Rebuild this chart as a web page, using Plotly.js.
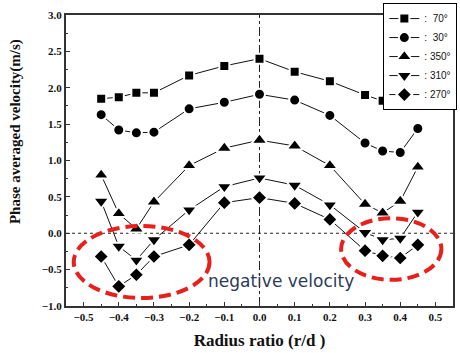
<!DOCTYPE html>
<html><head><meta charset="utf-8">
<script src="https://cdn.plot.ly/plotly-3.0.1.min.js"></script>
<style>html,body{margin:0;padding:0;background:#fff}#c{width:460px;height:353px}</style>
</head><body><div id="c"></div>
<script>
var radius = [-0.45, -0.4, -0.35, -0.3, -0.2, -0.1, 0.0, 0.1, 0.2, 0.3, 0.35, 0.4, 0.45];
var v70  = [1.85, 1.87, 1.93, 1.93, 2.17, 2.30, 2.40, 2.22, 2.09, 1.90, 1.82, 1.76, 1.77];
var v30  = [1.63, 1.42, 1.38, 1.39, 1.71, 1.80, 1.91, 1.83, 1.62, 1.24, 1.13, 1.11, 1.44];
var v350 = [0.80, 0.27, 0.06, 0.43, 0.93, 1.17, 1.28, 1.20, 0.93, 0.40, 0.28, 0.44, 0.91];
var v310 = [0.44, -0.18, -0.37, -0.09, 0.32, 0.64, 0.76, 0.66, 0.39, 0.01, -0.09, -0.07, 0.29];
var v270 = [-0.32, -0.73, -0.57, -0.32, -0.16, 0.42, 0.49, 0.41, 0.19, -0.24, -0.31, -0.34, -0.16];
var seriesNames = [':  70°', ':  30°', ': 350°', ': 310°', ': 270°'];
var xTicks = [-0.5, -0.4, -0.3, -0.2, -0.1, 0.0, 0.1, 0.2, 0.3, 0.4, 0.5];
var yTicks = [-1.0, -0.5, 0.0, 0.5, 1.0, 1.5, 2.0, 2.5, 3.0];

var series = [v70, v30, v350, v310, v270];
var symbols = ['square', 'circle', 'triangle-up', 'triangle-down', 'diamond'];
var sizes = [10, 11, 14, 14, 12];
var traces = series.map(function(v, i){
  return {x: radius, y: v, name: seriesNames[i], type: 'scatter', mode: 'lines+markers',
    line: {color: '#111', width: 1},
    marker: {symbol: symbols[i], size: sizes[i], color: '#000', line: {color: '#fff', width: 2}}};
});

var serif = 'Liberation Serif, Times New Roman, serif';
var layout = {
  width: 460, height: 353,
  margin: {l: 66, r: 3, t: 15, b: 47},
  paper_bgcolor: '#fff', plot_bgcolor: '#fff',
  showlegend: true,
  legend: {x: 0.82, y: 1.041, xanchor: 'left', yanchor: 'top', bgcolor: '#fff',
    bordercolor: '#000', borderwidth: 1, font: {family: 'Liberation Sans, Arial, sans-serif', size: 10, color: '#111'},
    tracegroupgap: 0, itemwidth: 30},
  xaxis: {range: [-0.55, 0.55], tickvals: xTicks, tickformat: '.1f', ticks: 'inside', ticklen: 4,
    tickcolor: '#333', showgrid: false, zeroline: false, showline: true, linecolor: '#333', linewidth: 2, mirror: true,
    minor: {ticks: 'inside', ticklen: 2, dtick: 0.05, tickcolor: '#333', showgrid: false},
    tickfont: {family: serif, size: 11, color: '#111', weight: 'bold'},
    title: {text: 'Radius ratio (r/d )', font: {family: serif, size: 17, color: '#111', weight: 'bold'}, standoff: 12}},
  yaxis: {range: [-1.0, 3.0], tickvals: yTicks, tickformat: '.1f', ticks: 'inside', ticklen: 4,
    tickcolor: '#333', showgrid: false, zeroline: false, showline: true, linecolor: '#333', linewidth: 2, mirror: true,
    minor: {ticks: 'inside', ticklen: 2, dtick: 0.25, tickcolor: '#333', showgrid: false},
    tickfont: {family: serif, size: 11, color: '#111', weight: 'bold'}},
  shapes: [
    {type: 'rect', xref: 'paper', yref: 'paper', x0: 0.828, x1: 0.995, y0: 0.674, y1: 1.031, fillcolor: '#000', line: {width: 0}, layer: 'above'},
    {type: 'line', xref: 'paper', yref: 'y', x0: 0, x1: 1, y0: 0, y1: 0, line: {color: '#222', width: 1, dash: '3px,3px'}, layer: 'below'},
    {type: 'line', xref: 'x', yref: 'paper', x0: 0, x1: 0, y0: 0, y1: 1, line: {color: '#222', width: 1, dash: 'dashdot'}, layer: 'below'},
    {type: 'circle', xref: 'x', yref: 'y', x0: -0.528, x1: -0.142, y0: -0.89, y1: 0.10, line: {color: '#e8201c', width: 4, dash: '12px,6px'}},
    {type: 'circle', xref: 'x', yref: 'y', x0: 0.232, x1: 0.517, y0: -0.64, y1: 0.206, line: {color: '#e8201c', width: 4, dash: '12px,6px'}}
  ],
  annotations: [
    {x: 0.06, y: -0.66, xref: 'x', yref: 'y', text: 'negative velocity', showarrow: false,
     font: {family: 'DejaVu Sans, sans-serif', size: 17, color: '#2d3a5a'}},
    {x: -0.13, y: 0.60, xref: 'paper', yref: 'paper', xanchor: 'center', yanchor: 'middle', textangle: -90,
     text: 'Phase averaged velocity(m/s)', showarrow: false,
     font: {family: serif, size: 15, color: '#111', weight: 'bold'}}
  ]
};
Plotly.newPlot('c', traces, layout, {displayModeBar: false, staticPlot: true});
</script></body></html>
